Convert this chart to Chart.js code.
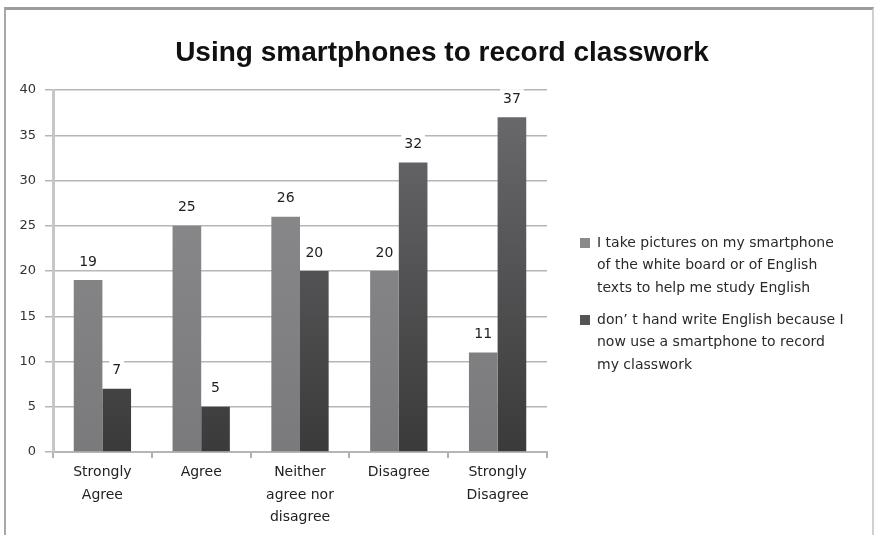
<!DOCTYPE html>
<html>
<head>
<meta charset="utf-8">
<script src="https://cdn.jsdelivr.net/npm/chart.js@4"></script>
<style>
  html, body { margin: 0; padding: 0; background: #fff; }
  #wrap { position: relative; width: 876px; height: 535px; overflow: hidden; }
  #frame {
    position: absolute; left: 4px; top: 7px; width: 866px; height: 600px;
    border-top: 3px solid #9c9c9c; border-left: 2px solid #a8a8a8; border-right: 2px solid #d0d0d0;
  }
  canvas { position: absolute; left: 0; top: 0; }
</style>
</head>
<body>
<div id="wrap">
  <div id="frame"></div>
  <canvas id="chart" width="876" height="535"></canvas>
</div>
<script>
  // ========================
  // Daten
  // ========================
  const categories = [
    ['Strongly', 'Agree'],
    ['Agree'],
    ['Neither', 'agree nor', 'disagree'],
    ['Disagree'],
    ['Strongly', 'Disagree']
  ];
  const picturesValues = [19, 25, 26, 20, 11];
  const handwriteValues = [7, 5, 20, 32, 37];
  const seriesNames = [
    'I take pictures on my smartphone of the white board or of English texts to help me study English',
    'don’ t hand write English because I now use a smartphone to record my classwork'
  ];
  // legend lines as wrapped in the original
  const legendLines = [
    ['I take pictures on my smartphone', 'of the white board or of English', 'texts to help me study English'],
    ['don’ t hand write English because I', 'now use a smartphone to record', 'my classwork']
  ];
  const yTicks = [0, 5, 10, 15, 20, 25, 30, 35, 40];
  const chartTitle = 'Using smartphones to record classwork';

  const FONT = "'DejaVu Sans', 'Liberation Sans', sans-serif";
  const TITLE_FONT = "'Liberation Sans', Arial, sans-serif";

  function gradient(ctx, top, bottom, fallback) {
    const area = ctx.chart.chartArea;
    if (!area) return fallback;
    const g = ctx.chart.ctx.createLinearGradient(0, area.top, 0, area.bottom);
    g.addColorStop(0, top);
    g.addColorStop(1, bottom);
    return g;
  }

  // Titel über dem ganzen Bild zentriert
  const centeredTitle = {
    id: 'centeredTitle',
    afterDraw(chart) {
      const c = chart.ctx;
      c.save();
      c.font = 'bold 28px ' + TITLE_FONT;
      c.fillStyle = '#111';
      c.textAlign = 'center';
      c.textBaseline = 'alphabetic';
      c.fillText(chartTitle, 442, 61);
      c.restore();
    }
  };

  // Werte über den Balken mit weissem Hintergrund
  const valueLabels = {
    id: 'valueLabels',
    afterDatasetsDraw(chart) {
      const c = chart.ctx;
      c.save();
      c.font = '14px ' + FONT;
      c.textAlign = 'center';
      c.textBaseline = 'middle';
      chart.data.datasets.forEach((ds, di) => {
        chart.getDatasetMeta(di).data.forEach((bar, i) => {
          const txt = String(ds.data[i]);
          const w = c.measureText(txt).width + 6;
          const y = bar.y - 19;
          c.fillStyle = '#fff';
          c.fillRect(bar.x - w / 2, y - 9, w, 18);
          c.fillStyle = '#1e1e1e';
          c.fillText(txt, bar.x, y + 1);
        });
      });
      c.restore();
    }
  };

  // Legende rechts, mehrzeilig
  const sideLegend = {
    id: 'sideLegend',
    afterDraw(chart) {
      const c = chart.ctx;
      const colors = ['#8a8a8c', '#545456'];
      const starts = [243, 320];
      c.save();
      c.font = '14px ' + FONT;
      c.textBaseline = 'middle';
      c.textAlign = 'left';
      legendLines.forEach((lines, i) => {
        c.fillStyle = colors[i];
        c.fillRect(580, starts[i] - 5, 10, 10);
        c.fillStyle = '#2a2a2a';
        lines.forEach((line, j) => c.fillText(line, 597, starts[i] + j * 22.7));
      });
      c.restore();
    }
  };

  new Chart(document.getElementById('chart'), {
    type: 'bar',
    data: {
      labels: categories,
      datasets: [
        {
          label: seriesNames[0],
          data: picturesValues,
          backgroundColor: ctx => gradient(ctx, '#8e8e90', '#7a7a7c', '#88888a'),
          borderWidth: 0
        },
        {
          label: seriesNames[1],
          data: handwriteValues,
          backgroundColor: ctx => gradient(ctx, '#6c6c70', '#3a3a3a', '#555'),
          borderWidth: 0
        }
      ]
    },
    options: {
      responsive: false,
      animation: false,
      devicePixelRatio: 1,
      categoryPercentage: 0.58,
      barPercentage: 1.0,
      layout: { padding: { top: 90, right: 329, left: 0, bottom: 0 } },
      plugins: {
        legend: { display: false },
        tooltip: { enabled: false },
        title: { display: false }
      },
      scales: {
        x: {
          offset: true,
          grid: { display: true, drawOnChartArea: false, drawTicks: true, tickLength: 6, color: '#b0b0b0', lineWidth: 2, offset: true },
          border: { display: true, color: '#b5b5b5', width: 2 },
          ticks: { color: '#222', font: { family: FONT, size: 14, lineHeight: 1.62 }, padding: 3, maxRotation: 0 },
          afterFit(scale) { scale.height = 83; }
        },
        y: {
          min: 0,
          max: 40,
          afterBuildTicks(scale) { scale.ticks = yTicks.map(v => ({ value: v })); },
          grid: { color: '#b6b6b6', lineWidth: 1.5, tickLength: 8 },
          border: { display: true, color: '#c6c6c6', width: 3 },
          ticks: { color: '#333', font: { family: FONT, size: 13 }, padding: 9 },
          afterFit(scale) { scale.width = 53; }
        }
      }
    },
    plugins: [valueLabels, sideLegend, centeredTitle]
  });
</script>
</body>
</html>
